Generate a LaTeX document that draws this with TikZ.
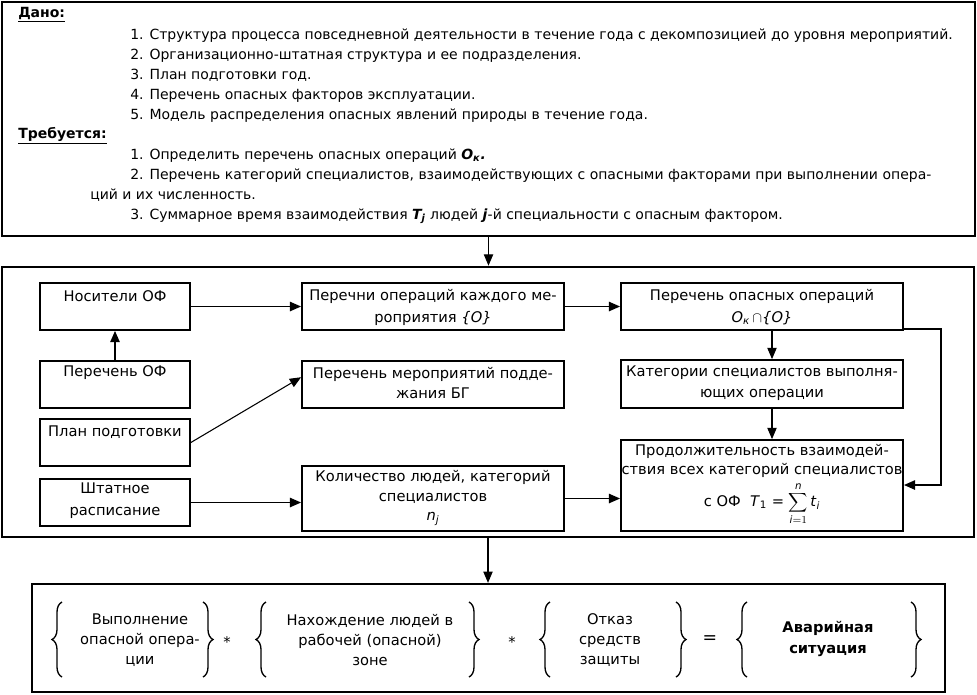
\documentclass[tikz,border=0pt]{standalone}
\usepackage{fontspec}
\setmainfont{DejaVu Sans}
\usetikzlibrary{arrows.meta,fit,calc,decorations.pathreplacing}
\begin{document}
\begin{tikzpicture}[x=0.75pt,y=-0.75pt,
  font=\fontsize{11}{15}\selectfont,
  frame/.style={draw, line width=1.7pt, inner sep=0pt},
  box/.style={draw, line width=1.3pt, inner sep=0pt},
  tl/.style={anchor=west, inner sep=0pt, text height=7pt, text depth=2pt, font=\fontsize{10.5}{12}\selectfont},
  txt/.style={inner sep=0pt, align=center},
  ls/.style={font=\fontsize{11}{#1}\selectfont},
  arr/.style={line width=1.4pt, -{Triangle[length=8.5pt,width=7pt]}},
  tarr/.style={line width=0.8pt, -{Triangle[length=8.5pt,width=7pt]}},
  brc/.style={decorate, decoration={brace, amplitude=7.5pt}, line width=1pt}
]
\useasboundingbox (0,0) rectangle (977,694);

% ---------- top frame ----------
\node[frame, fit={(2,2) (975,236)}] (given) {};
\node[tl] (h1) at (18,14) {\underline{\textbf{Дано:}}};
\node[tl] (g1) at (130,36) {1. Структура процесса повседневной деятельности в течение года с декомпозицией до уровня мероприятий.};
\node[tl] (g2) at (130,56) {2. Организационно-штатная структура и ее подразделения.};
\node[tl] (g3) at (130,76) {3. План подготовки год.};
\node[tl] (g4) at (130,96) {4. Перечень опасных факторов эксплуатации.};
\node[tl] (g5) at (130,116) {5. Модель распределения опасных явлений природы в течение года.};
\node[tl] (h2) at (18,135) {\underline{\textbf{Требуется:}}};
\node[tl] (r1) at (130,156) {1. Определить перечень опасных операций \textbf{\textit{O\textsubscript{к}.}}};
\node[tl] (r2) at (130,176) {2. Перечень категорий специалистов, взаимодействующих с опасными факторами при выполнении опера-};
\node[tl] (r2b) at (90,196) {ций и их численность.};
\node[tl] (r3) at (130,216) {3. Суммарное время взаимодействия \textbf{\textit{T\textsubscript{j}}} людей \textbf{\textit{j}}-й специальности с опасным фактором.};

% ---------- middle frame ----------
\node[frame, line width=2pt, fit={(2,267) (974,537)}] (mid) {};

\node[box, fit={(40,283) (190,330)}] (nos) {};
\node[txt] (nost) at (115,296) {Носители ОФ};
\node[box, fit={(40,361) (190,408)}] (pof) {};
\node[txt] (poft) at (115,373) {Перечень ОФ};
\node[box, fit={(40,419) (190,466)}] (plan) {};
\node[txt] (plant) at (115,432) {План подготовки};
\node[box, fit={(40,479) (190,526)}] (shtat) {};
\node[txt, ls=16.5pt] (shtatt) at (115,501) {Штатное\\расписание};

\node[box, fit={(302,283) (564,330)}] (ops) {};
\node[txt, ls=16.5pt] (opst) at (433,307) {Перечни операций каждого ме-\\роприятия \textit{\{O\}}};
\node[box, fit={(302,361) (564,408)}] (mer) {};
\node[txt, ls=15.5pt] (mert) at (433,383) {Перечень мероприятий подде-\\жания БГ};
\node[box, fit={(302,466) (564,531)}] (kol) {};
\node[txt, ls=14.5pt] (kolt) at (433,498) {Количество людей, категорий\\специалистов\\\textit{n\textsubscript{j}}};

\node[box, fit={(621,283) (903,330)}] (dang) {};
\node[txt, ls=16.5pt] (dangt) at (762,307) {Перечень опасных операций\\\textit{O\textsubscript{к}}\,$\cap$\textit{\{O\}}};
\node[box, fit={(621,360) (903,408)}] (cat) {};
\node[txt, ls=15.5pt] (catt) at (762,383) {Категории специалистов выполня-\\ющих операции};
\node[box, fit={(621,440) (903,531)}] (dur) {};
\node[txt, ls=14.5pt, anchor=north] (durt) at (762,444) {Продолжительность взаимодей-\\ствия всех категорий специалистов\\[2.5pt]с ОФ\ \ \textit{T}\textsubscript{1} = $\displaystyle\sum_{\mathit{i}=1}^{\mathit{n}}$\,\textit{t}\textsubscript{\textit{i}}};

\draw[arr] (pof.north) -- (nos.south);
\draw[arr] (nos.east) -- (ops.west);
\draw[tarr] (plan.east) -- ($(mer.north west)!0.35!(mer.south west)$);
\draw[arr] (shtat.east) -- (shtat.east -| kol.west);
\draw[arr] (ops.east) -- (dang.west);
\draw[tarr] ($(dang.south)+(10,0)$) -- ($(cat.north)+(10,0)$);
\draw[tarr] ($(cat.south)+(10,0)$) -- ($(dur.north)+(10,0)$);
\draw[arr] (kol.east) -- (kol.east -| dur.west);
\coordinate (c1) at (941,329);
\coordinate (c2) at (941,485);
\draw[arr] (dang.south east |- c1) -- (c1) -- (c2) -- (c2 -| dur.east);

% ---------- bottom frame ----------
\node[frame, fit={(32,584) (945,692)}] (res) {};
\draw[tarr] (given.south) -- (given.south |- mid.north);
\draw[tarr] (mid.south) -- (mid.south |- res.north);

\draw[brc] (62,677) -- (62,602);
\draw[brc] (203,602) -- (203,677);
\node[txt, ls=15pt] (e1) at (140,640) {Выполнение\\опасной опера-\\ции};
\node[txt] (s1) at (227,642) {*};
\draw[brc] (266,677) -- (266,602);
\draw[brc] (469,602) -- (469,677);
\node[txt, ls=15pt] (e2) at (370,640) {Нахождение людей в\\рабочей (опасной)\\зоне};
\node[txt] (s2) at (512,642) {*};
\draw[brc] (550,677) -- (550,602);
\draw[brc] (676,602) -- (676,677);
\node[txt, ls=15pt] (e3) at (610,640) {Отказ\\средств\\защиты};
\node[txt, font=\fontsize{13}{15}\selectfont] (eq) at (710,640) {=};
\draw[brc] (747,677) -- (747,602);
\draw[brc] (911,602) -- (911,677);
\node[txt, ls=16pt] (e4) at (828,639) {\textbf{Аварийная}\\\textbf{ситуация}};
\end{tikzpicture}
\end{document}
